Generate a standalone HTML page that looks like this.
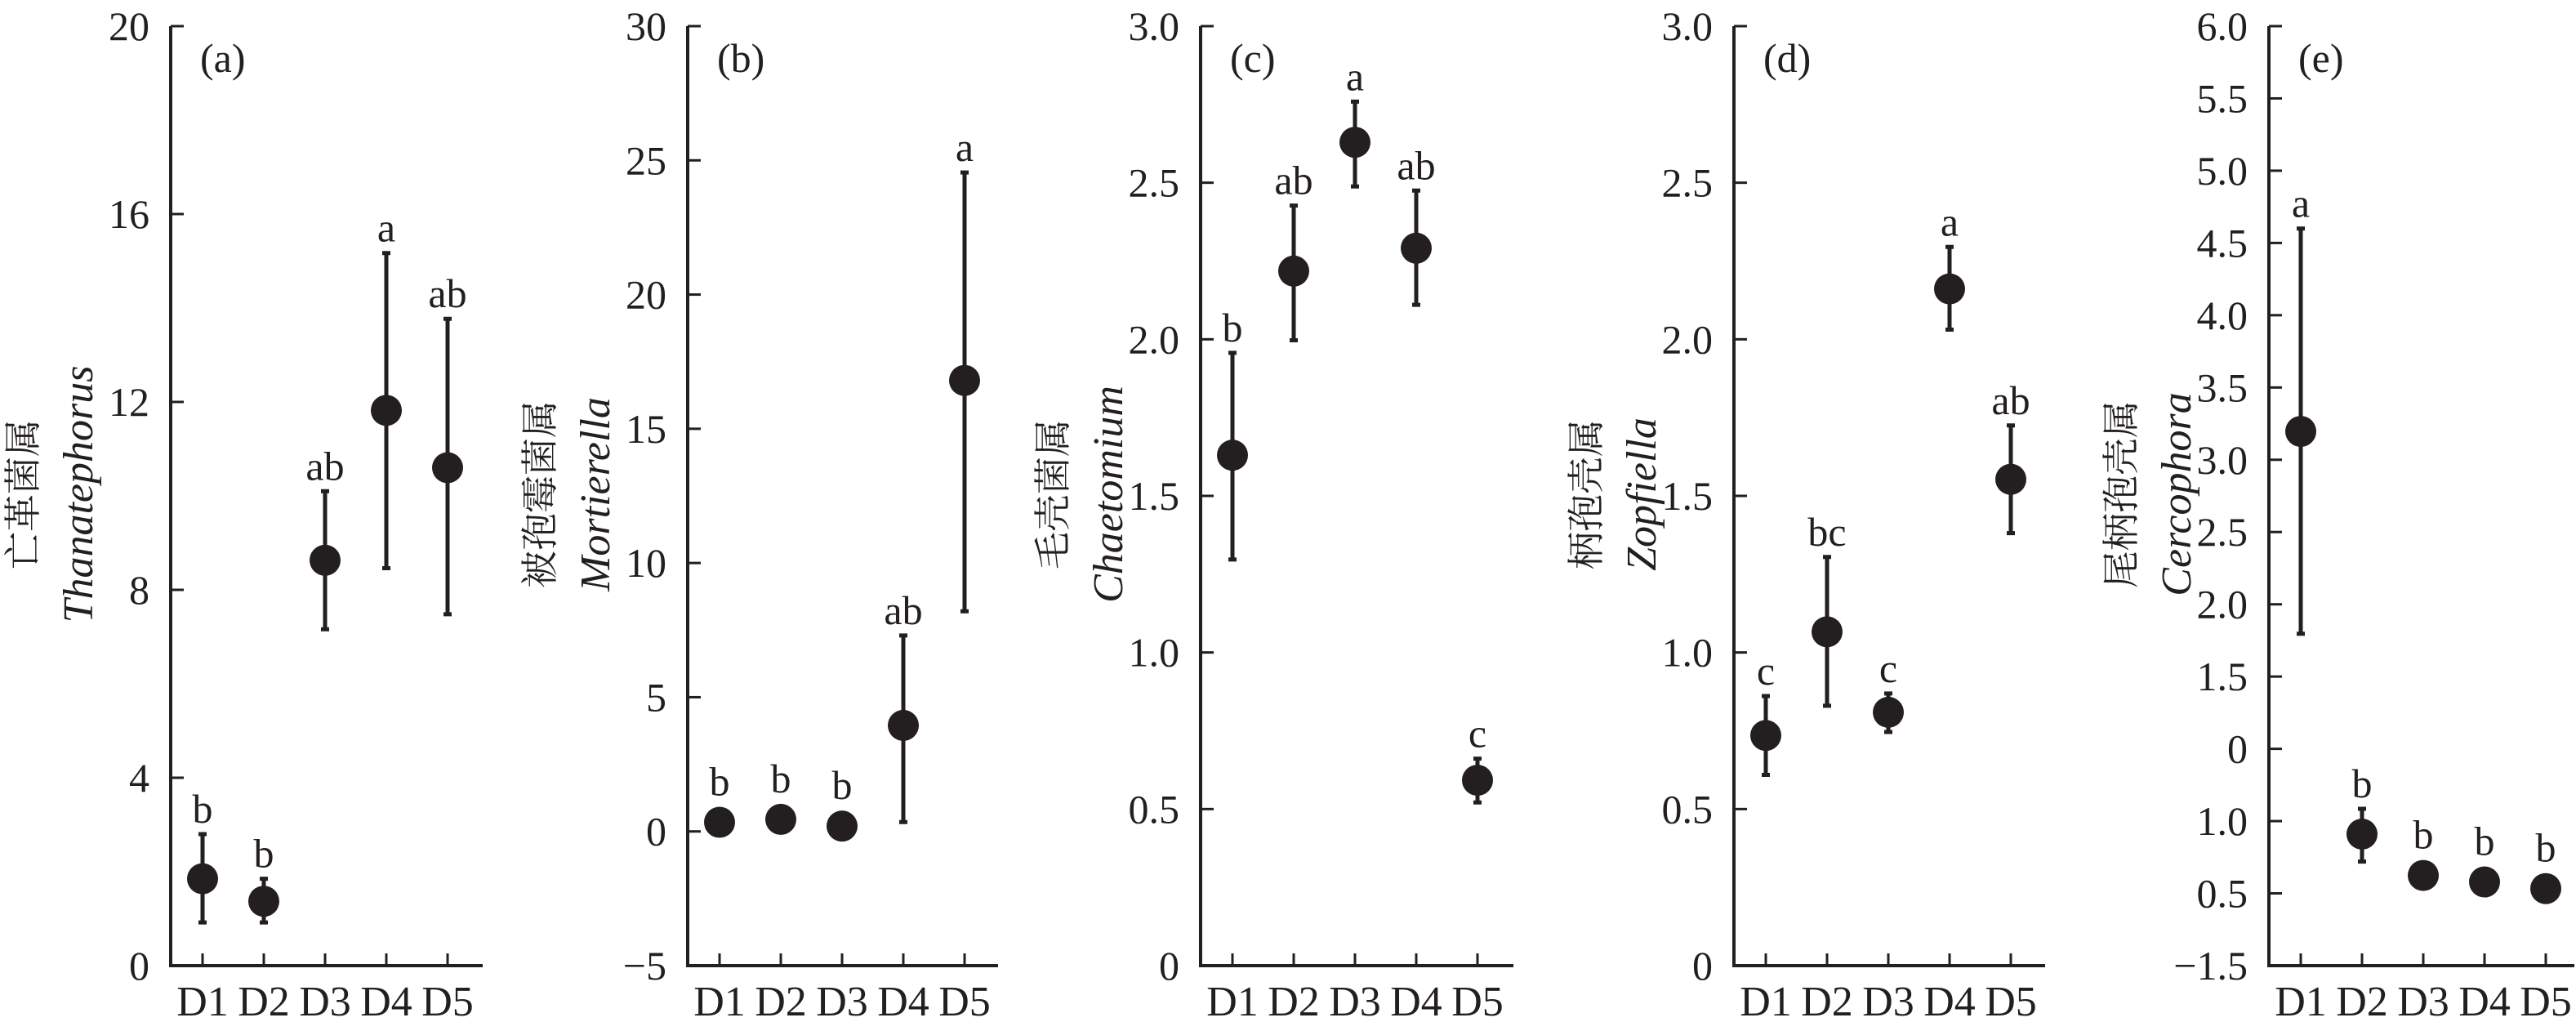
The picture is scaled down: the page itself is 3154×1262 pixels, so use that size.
<!DOCTYPE html>
<html><head><meta charset="utf-8"><style>
html,body{margin:0;padding:0;background:#fff}
svg{display:block}
text{font-family:"Liberation Serif","Noto Serif CJK SC",serif;fill:#231f20}
</style></head><body>
<svg id="chart" width="3154" height="1262" viewBox="0 0 3154 1262" xmlns="http://www.w3.org/2000/svg"></svg>
<script>
// ---- data ----
const categories = ["D1","D2","D3","D4","D5"];
const panelIds = ["a","b","c","d","e"];
const cnNames = ["亡革菌属","被孢霉菌属","毛壳菌属","柄孢壳属","尾柄孢壳属"];
const latinNames = ["Thanatephorus","Mortierella","Chaetomium","Zopfiella","Cercophora"];
const meansA = [1.85,1.37,8.63,11.82,10.6];
const upA = [2.8,1.85,10.1,15.17,13.77];
const lowA = [0.92,0.92,7.16,8.46,7.48];
const lettersA = ["b","b","ab","a","ab"];
const meansB = [0.34,0.45,0.2,3.95,16.8];
const upB = [0.34,0.45,0.2,7.3,24.55];
const lowB = [0.34,0.45,0.2,0.35,8.2];
const lettersB = ["b","b","b","ab","a"];
const meansC = [1.63,2.218,2.629,2.291,0.592];
const upC = [1.957,2.427,2.759,2.475,0.661];
const lowC = [1.297,1.997,2.488,2.11,0.521];
const lettersC = ["b","ab","a","ab","c"];
const meansD = [0.735,1.066,0.809,2.161,1.553];
const upD = [0.861,1.305,0.869,2.295,1.725];
const lowD = [0.609,0.83,0.746,2.031,1.381];
const lettersD = ["c","bc","c","a","ab"];
const meansE = [3.196,0.41,0.124,0.079,0.033];
const upE = [4.6,0.585,0.124,0.079,0.033];
const lowE = [1.796,0.22,0.124,0.079,0.033];
const lettersE = ["a","b","b","b","b"];
const ticksA = [0,4,8,12,16,20];
const tickLabelsA = ["0","4","8","12","16","20"];
const ticksB = [-5,0,5,10,15,20,25,30];
const tickLabelsB = ["\u22125","0","5","10","15","20","25","30"];
const ticksC = [0,0.5,1,1.5,2,2.5,3];
const tickLabelsC = ["0","0.5","1.0","1.5","2.0","2.5","3.0"];
const ticksD = [0,0.5,1,1.5,2,2.5,3];
const tickLabelsD = ["0","0.5","1.0","1.5","2.0","2.5","3.0"];
const ticksE = [-0.5,0,0.5,1,1.5,2,2.5,3,3.5,4,4.5,5,5.5,6];
const tickLabelsE = ["\u22121.5","0.5","1.0","0","1.5","2.0","2.5","3.0","3.5","4.0","4.5","5.0","5.5","6.0"];
const domains = [[0,20],[-5,30],[0,3],[0,3],[-0.5,6]];

const panels = [
 {x0:209,x1:591,m:meansA,u:upA,l:lowA,let:lettersA,t:ticksA,tl:tickLabelsA},
 {x0:842,x1:1222,m:meansB,u:upB,l:lowB,let:lettersB,t:ticksB,tl:tickLabelsB},
 {x0:1470,x1:1853,m:meansC,u:upC,l:lowC,let:lettersC,t:ticksC,tl:tickLabelsC},
 {x0:2123,x1:2504,m:meansD,u:upD,l:lowD,let:lettersD,t:ticksD,tl:tickLabelsD},
 {x0:2778,x1:3152,m:meansE,u:upE,l:lowE,let:lettersE,t:ticksE,tl:tickLabelsE}
];
const yTop = 32, yBot = 1182;
const NS = "http://www.w3.org/2000/svg";
const svg = document.getElementById("chart");
function mk(tag, attrs, parent){const e=document.createElementNS(NS,tag);for(const k in attrs)e.setAttribute(k,attrs[k]);(parent||svg).appendChild(e);return e;}

panels.forEach((p,pi)=>{
  const [d0,d1] = domains[pi];
  const y = v => yBot - (v-d0)/(d1-d0)*(yBot-yTop);
  const x = i => p.x0 + 39 + 75*i;
  const g = mk("g",{});
  
  
  const ax = mk("path",{d:`M${p.x0},${yTop} V${yBot} H${p.x1}`,fill:"none",stroke:"#231f20","stroke-width":4},g);
  
  
  p.t.forEach((tv,ti)=>{
    const ty=y(tv);
    const tk=mk("line",{x1:p.x0,x2:p.x0+16,y1:ty,y2:ty,stroke:"#231f20","stroke-width":3},g);
    
    
    const tt=mk("text",{x:p.x0-26,y:ty+17,"text-anchor":"end","font-size":50},g);
    tt.textContent=p.tl[ti];
    
    
  });
  categories.forEach((c,i)=>{
    const tk=mk("line",{x1:x(i),x2:x(i),y1:yBot,y2:yBot-15,stroke:"#231f20","stroke-width":3},g);
    
    
    const tt=mk("text",{x:x(i),y:1243,"text-anchor":"middle","font-size":52},g);
    tt.textContent=c;
    
    
    const eb=mk("path",{d:`M${x(i)},${y(p.u[i])} V${y(p.l[i])} M${x(i)-5},${y(p.u[i])} H${x(i)+5} M${x(i)-5},${y(p.l[i])} H${x(i)+5}`,stroke:"#231f20","stroke-width":5,fill:"none"},g);
    
    
    const pt=mk("circle",{cx:x(i),cy:y(p.m[i]),r:19,fill:"#231f20"},g);
    
    
    const lt=mk("text",{x:x(i),y:Math.min(y(p.u[i]),y(p.m[i])-19)-14,"text-anchor":"middle","font-size":50},g);
    lt.textContent=p.let[i];
    
    
  });
  const pl=mk("text",{x:p.x0+36,y:88,"font-size":50},g);
  pl.textContent="("+panelIds[pi]+")";
  
  
  const cy=605;
  const t1=mk("text",{x:0,y:0,"text-anchor":"middle","font-size":46,transform:`translate(${p.x0-165},${cy}) rotate(-90)`},g);
  t1.textContent=cnNames[pi];
  
  
  const t2=mk("text",{x:0,y:0,"text-anchor":"middle","font-size":52,"font-style":"italic",transform:`translate(${p.x0-96},${cy}) rotate(-90)`},g);
  t2.textContent=latinNames[pi];
  
  
});
</script>
</body></html>
